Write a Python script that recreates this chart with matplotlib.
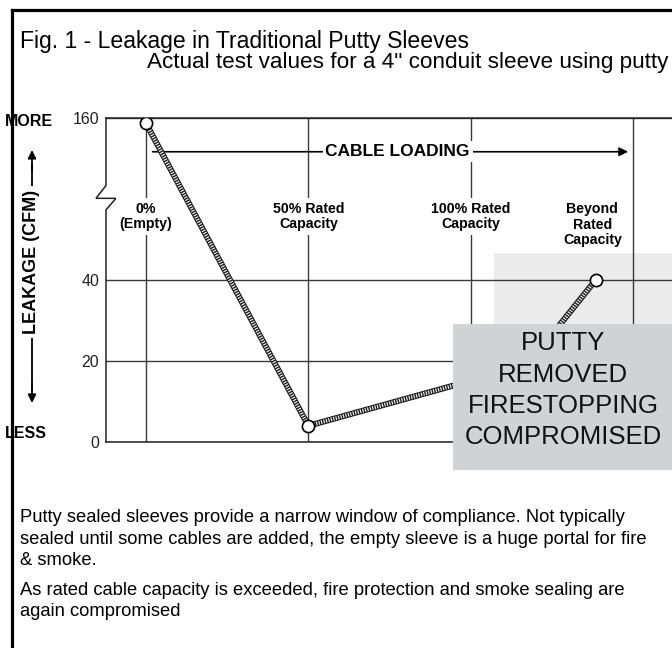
import numpy as np
import matplotlib
matplotlib.use("Agg")
import matplotlib.pyplot as plt
from matplotlib.patches import Rectangle
from matplotlib.lines import Line2D

plt.rcParams['font.family'] = ['Liberation Sans', 'DejaVu Sans']

# cable loading position (grid columns) and measured leakage in CFM
loading = [0.0, 1.0, 2.35, 2.77]
leakage = [156, 4, 19, 40]

column_pos = [0, 1, 2, 2.75]
column_labels = ["0%\n(Empty)", "50% Rated\nCapacity", "100% Rated\nCapacity", "Beyond\nRated\nCapacity"]
column_label_y = [87, 87, 87, 81]

yticks = [0, 20, 40, 160]

title = "Fig. 1 - Leakage in Traditional Putty Sleeves"
subtitle = "Actual test values for a 4\" conduit sleeve using putty"
para1 = ("Putty sealed sleeves provide a narrow window of compliance. Not typically\n"
         "sealed until some cables are added, the empty sleeve is a huge portal for fire\n"
         "& smoke.")
para2 = ("As rated cable capacity is exceeded, fire protection and smoke sealing are\n"
         "again compromised")
box_text = "PUTTY\nREMOVED\nFIRESTOPPING\nCOMPROMISED"


# broken axis: above 40 the scale is compressed 3x
def fwd(v):
    v = np.asarray(v, dtype=float)
    return np.where(v <= 40, v, 40 + (v - 40) / 3.0)


def inv(t):
    t = np.asarray(t, dtype=float)
    return np.where(t <= 40, t, 40 + (t - 40) * 3.0)


W, H = 672, 648
fig = plt.figure(figsize=(W / 100, H / 100), dpi=100)
ax = fig.add_axes([106 / W, (H - 442) / H, (700 - 106) / W, (442 - 118) / H])
ax.set_yscale('function', functions=(fwd, inv))
ax.set_ylim(0, 160)
ax.set_xlim(-0.2465, 3.413)
ax.set_axisbelow(True)

ax.set_yticks(yticks)
ax.set_yticklabels([str(t) for t in yticks])
ax.set_xticks([0, 1, 2, 3])
ax.set_xticklabels([])
ax.tick_params(length=0, labelsize=11.5, pad=5, colors='#222')
ax.grid(True, color='#3a3a3a', lw=1.0)

for s in ['right', 'left']:
    ax.spines[s].set_visible(False)
for s in ['top', 'bottom']:
    ax.spines[s].set_color('#222')
    ax.spines[s].set_linewidth(1.1)

# left spine with a break mark
yt = ax.get_yaxis_transform()
dx = 10 / (700 - 106)
ax.plot([0, 0, -dx, dx, 0, 0], [160, 110, 100.5, 100.5, 92, 0], color='#222', lw=1.1,
        transform=yt, clip_on=False, solid_joinstyle='miter')

# light shaded region behind the last column
ax.add_patch(Rectangle((2.144, 27), 1.4, 33, facecolor='#ebebeb', edgecolor='none', zorder=0.2))

# column labels
for x, lab, y in zip(column_pos, column_labels, column_label_y):
    ax.text(x, y, lab, ha='center', va='center', fontsize=10.2, fontweight='bold',
            linespacing=1.15, zorder=3,
            bbox=dict(facecolor='white', edgecolor='none', pad=2.5))

# cable loading arrow
ax.annotate('', xy=(2.97, 135), xytext=(0.04, 135),
            arrowprops=dict(arrowstyle='-|>', color='black', lw=1.2, mutation_scale=13,
                            shrinkA=0, shrinkB=0), zorder=3)
ax.text(1.55, 135, "CABLE LOADING", ha='center', va='center', fontsize=12.5,
        fontweight='bold', zorder=4,
        bbox=dict(facecolor='white', edgecolor='none', pad=2))

# leakage curve drawn as a striped rope
ax.plot(loading, leakage, color='#1a1a1a', lw=4.3, zorder=5, solid_capstyle='butt')
ax.plot(loading, leakage, color='#f2f2f2', lw=2.8, zorder=5.1, dashes=(0.3, 0.35))
ax.plot(loading, leakage, 'o', ms=8.8, mfc='white', mec='black', mew=1.2, zorder=6)

# putty removed box
ax.add_patch(Rectangle((1.89, -7), 1.6, 36.1, facecolor='#d1d2d4', edgecolor='none',
                       zorder=7, clip_on=False))
ax.text(2.57, 12.8, box_text, ha='center', va='center', fontsize=18.5, linespacing=1.38,
        zorder=8, color='#111')

# y axis label with arrows
fig.text(5 / W, 1 - 122 / H, "MORE", ha='left', va='center', fontsize=11.5, fontweight='bold')
fig.text(5 / W, 1 - 433 / H, "LESS", ha='left', va='center', fontsize=11.5, fontweight='bold')
fig.add_artist(Line2D([32 / W, 32 / W], [1 - 165 / H, 1 - 390 / H], color='black', lw=1.3))
ax.annotate('', xy=(32 / W, 1 - 150 / H), xytext=(32 / W, 1 - 170 / H),
            xycoords='figure fraction', textcoords='figure fraction',
            arrowprops=dict(arrowstyle='-|>', color='black', lw=1.3, mutation_scale=12,
                            shrinkA=0, shrinkB=0))
ax.annotate('', xy=(32 / W, 1 - 403 / H), xytext=(32 / W, 1 - 383 / H),
            xycoords='figure fraction', textcoords='figure fraction',
            arrowprops=dict(arrowstyle='-|>', color='black', lw=1.3, mutation_scale=12,
                            shrinkA=0, shrinkB=0))
fig.text(32 / W, 1 - 262 / H, "LEAKAGE (CFM)", rotation=90, ha='center', va='center',
         fontsize=13, fontweight='bold',
         bbox=dict(facecolor='white', edgecolor='none', pad=3))

# titles and notes
fig.text(20 / W, 1 - 48 / H, title, ha='left', va='baseline', fontsize=16.6)
fig.text(668 / W, 1 - 68 / H, subtitle, ha='right', va='baseline', fontsize=16.2)
fig.text(20 / W, 1 - 539 / H, para1, ha='left', va='center', fontsize=13.2, linespacing=1.37)
fig.text(20 / W, 1 - 601 / H, para2, ha='left', va='center', fontsize=13.2, linespacing=1.37)

# outer frame
fig.add_artist(Line2D([12 / W, 12 / W], [0, 1 - 10 / H], color='black', lw=2.3))
fig.add_artist(Line2D([12 / W, 1], [1 - 10 / H, 1 - 10 / H], color='black', lw=2.3))

fig.savefig("out.png", dpi=100)
